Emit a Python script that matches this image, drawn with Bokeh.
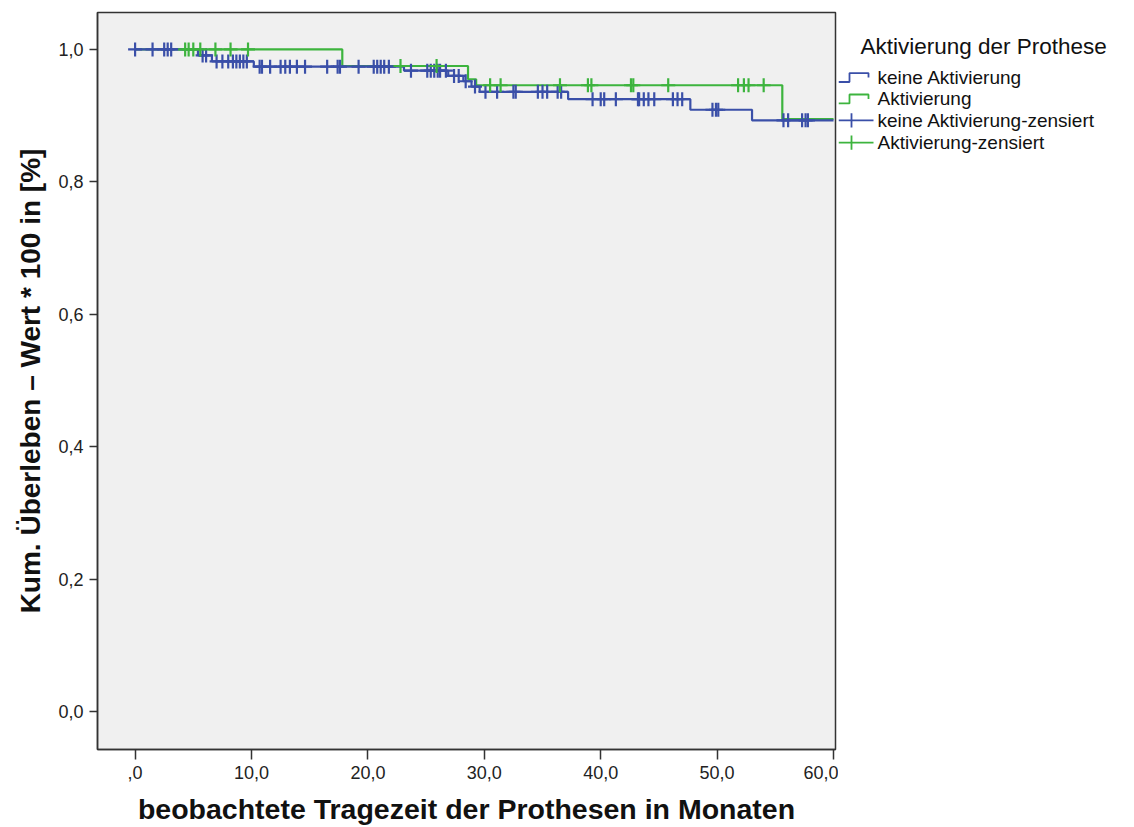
import numpy as np
from bokeh.plotting import figure
from bokeh.models import FixedTicker, Range1d
from bokeh.layouts import row
from bokeh.embed import file_html
from bokeh.resources import INLINE
from bokeh.core.properties import value

# Kaplan-Meier step functions: time of each step (months) and survival after it
keine_times = [0.0, 5.4, 6.6, 10.2, 23.1, 26.9, 28.2, 28.9, 29.6, 37.2, 47.7, 53.0, 60.0]
keine_surv = [1.0, 0.991, 0.982, 0.974, 0.968, 0.960, 0.952, 0.944, 0.936, 0.925, 0.909, 0.893, 0.893]

akt_times = [0.0, 17.8, 28.6, 29.3, 55.6, 60.0]
akt_surv = [1.0, 0.975, 0.955, 0.946, 0.895, 0.895]

# censored observations (months)
keine_censored = [0.0, 1.5, 2.5, 2.8, 3.1, 5.8, 6.1, 7.0, 7.5, 8.0, 8.4, 8.7, 9.0, 9.3, 9.6,
                  10.7, 10.9, 11.6, 12.5, 12.9, 13.3, 13.9, 14.6, 16.5, 17.4, 17.6, 19.2,
                  20.5, 20.8, 21.1, 21.4, 21.8, 23.7, 25.1, 25.4, 25.7, 26.0, 26.2, 26.7,
                  27.4, 27.8, 28.4, 29.2, 30.1, 31.1, 32.5, 32.7, 34.6, 35.0, 35.4, 36.3,
                  36.6, 39.3, 40.0, 40.3, 41.3, 43.2, 43.3, 43.7, 44.1, 44.6, 46.2, 46.6,
                  47.0, 49.6, 49.9, 50.1, 55.7, 56.1, 57.3, 57.6, 57.8]
akt_censored = [4.3, 4.6, 5.0, 5.6, 6.9, 8.2, 9.7, 22.8, 25.9, 30.5, 31.4, 36.5, 38.9,
                39.2, 42.6, 42.8, 45.8, 51.8, 52.3, 52.7, 54.0]

x_ticks = [0, 10, 20, 30, 40, 50, 60]
x_tick_labels = [",0", "10,0", "20,0", "30,0", "40,0", "50,0", "60,0"]
y_ticks = [0.0, 0.2, 0.4, 0.6, 0.8, 1.0]
y_tick_labels = ["0,0", "0,2", "0,4", "0,6", "0,8", "1,0"]

legend_title = "Aktivierung der Prothese"
legend_labels = ["keine Aktivierung", "Aktivierung",
                 "keine Aktivierung-zensiert", "Aktivierung-zensiert"]

BLUE = "#3a4fa8"
GREEN = "#3db43e"
FONT = "Liberation Sans"


def surv_at(times, surv, t):
    idx = np.searchsorted(np.asarray(times), np.asarray(t), side="right") - 1
    return np.asarray(surv)[idx]


p = figure(width=838, height=827,
           x_range=Range1d(-3.23, 60.17), y_range=Range1d(-0.0568, 1.0558),
           output_backend="svg", toolbar_location=None,
           min_border_left=97, min_border_right=3, min_border_top=12, min_border_bottom=77)
p.border_fill_color = "white"
p.background_fill_color = "#f0f0f0"
p.outline_line_color = "#333333"
p.outline_line_width = 1.5
p.grid.visible = False

p.step(akt_times, akt_surv, mode="after", line_color=GREEN, line_width=2.2)
p.step(keine_times, keine_surv, mode="after", line_color=BLUE, line_width=2.2)
p.scatter(keine_censored, surv_at(keine_times, keine_surv, keine_censored),
          marker="cross", size=14, line_color=BLUE, line_width=2.2)
p.scatter(akt_censored, surv_at(akt_times, akt_surv, akt_censored),
          marker="cross", size=14, line_color=GREEN, line_width=2.2)

p.xaxis.ticker = FixedTicker(ticks=x_ticks)
p.xaxis.major_label_overrides = dict(zip(x_ticks, x_tick_labels))
p.yaxis.ticker = FixedTicker(ticks=y_ticks)
p.yaxis.major_label_overrides = dict(zip(y_ticks, y_tick_labels))

p.xaxis.axis_label = "beobachtete Tragezeit der Prothesen in Monaten"
p.yaxis.axis_label = "Kum. Überleben – Wert * 100 in [%]"

for ax in (p.xaxis[0], p.yaxis[0]):
    ax.minor_tick_line_color = None
    ax.major_tick_in = 0
    ax.axis_line_color = "#333333"
    ax.axis_line_width = 1.5
    ax.major_tick_line_color = "#333333"
    ax.major_tick_line_width = 1.5
    ax.major_label_text_font = FONT
    ax.major_label_text_font_size = "18px"
    ax.major_label_text_color = "#222222"
    ax.axis_label_text_font = FONT
    ax.axis_label_text_font_style = "bold"
    ax.axis_label_text_font_size = "28px"
    ax.axis_label_text_color = "#111111"

p.xaxis.axis_label_text_font_size = "28.5px"
p.xaxis.major_tick_out = 10
p.xaxis.major_label_standoff = 6
p.xaxis.axis_label_standoff = 11
p.yaxis.major_tick_out = 8
p.yaxis.major_label_standoff = 6
p.yaxis.axis_label_standoff = 9

# legend panel to the right of the plot frame
lg = figure(width=296, height=827, x_range=Range1d(0, 296), y_range=Range1d(827, 0),
            output_backend="svg", toolbar_location=None,
            min_border=0, min_border_left=0, min_border_right=0,
            min_border_top=0, min_border_bottom=0)
lg.axis.visible = False
lg.grid.visible = False
lg.outline_line_color = None
lg.background_fill_color = "white"
lg.border_fill_color = "white"

lg.text([22], [38], text=[legend_title], text_font=value(FONT), text_font_size="22.5px",
        text_baseline="middle", text_align="left", text_color="#111111")

item_y = [73, 97, 121, 146]
item_colors = [BLUE, GREEN, BLUE, GREEN]
for i, (yc, col) in enumerate(zip(item_y, item_colors)):
    if i < 2:
        lg.line([0, 11, 11, 30, 30], [yc + 5, yc + 5, yc - 5, yc - 5, yc],
                line_color=col, line_width=1.8)
    else:
        lg.line([0, 35], [yc, yc], line_color=col, line_width=1.8)
        lg.line([13, 13], [yc - 8, yc + 8], line_color=col, line_width=1.8)
lg.text([39] * 4, item_y, text=legend_labels, text_font=value(FONT), text_font_size="19px",
        text_baseline="middle", text_align="left", text_color="#111111")

layout = row(p, lg)
open("out.html", "w").write(file_html(layout, INLINE))
